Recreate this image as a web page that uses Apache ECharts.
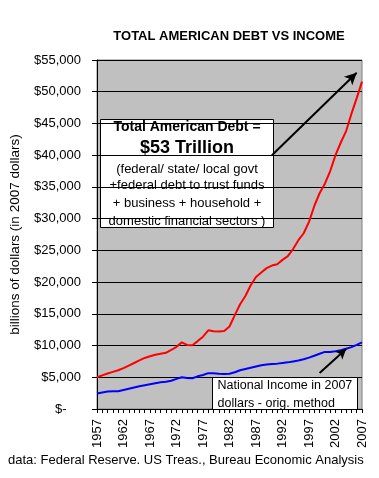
<!DOCTYPE html>
<html>
<head>
<meta charset="utf-8">
<script src="https://cdn.jsdelivr.net/npm/echarts@6/dist/echarts.min.js"></script>
<style>
html,body{margin:0;padding:0;background:#fff;}
#chart{width:379px;height:478px;}
</style>
</head>
<body>
<div id="chart"></div>
<script>
var years = [];
for (var y = 1957; y <= 2007; y++) years.push(String(y));

var totalDebt = [
  5000, 5300, 5600, 5850, 6100, 6450, 6850, 7250, 7650, 8050,
  8300, 8550, 8700, 8850, 9300, 9800, 10500, 10100, 10050, 10700,
  11400, 12400, 12250, 12200, 12300, 13000, 14800, 16500, 17800, 19500,
  20800, 21500, 22200, 22600, 22800, 23500, 24100, 25200, 26600, 27700,
  29500, 32000, 34000, 35500, 37500, 40000, 42000, 43800, 46500, 49000,
  51600
];
var nationalIncome = [
  2450, 2600, 2750, 2780, 2800, 3000, 3200, 3400, 3600, 3750,
  3900, 4050, 4200, 4300, 4450, 4750, 5000, 4900, 4850, 5150,
  5350, 5650, 5650, 5550, 5500, 5550, 5800, 6100, 6300, 6500,
  6700, 6900, 7000, 7100, 7150, 7250, 7350, 7500, 7650, 7850,
  8100, 8400, 8700, 9000, 9000, 9100, 9250, 9500, 9750, 10100,
  10500
];
var yTicks = [0, 5000, 10000, 15000, 20000, 25000, 30000, 35000, 40000, 45000, 50000, 55000];

var debtArrow = [[33, 40000], [49.3, 53000]];
var incomeArrow = [[42.4, 5680], [47.4, 9460]];

var FONT = '"Liberation Sans", Arial, sans-serif';

function line(text, y, font) {
  return {type: 'text', x: 86.5, y: y, style: {text: text, fill: '#000', font: font,
    textAlign: 'center', textVerticalAlign: 'middle'}};
}

var chart = echarts.init(document.getElementById('chart'), null, {renderer: 'canvas'});
chart.setOption({
  animation: false,
  backgroundColor: '#ffffff',
  textStyle: {fontFamily: FONT},
  title: {
    text: 'TOTAL AMERICAN DEBT VS INCOME',
    left: 224, top: 25, textAlign: 'center',
    textStyle: {fontFamily: FONT, fontSize: 13, fontWeight: 'bold', color: '#000'}
  },
  grid: {
    left: 96, right: 17, top: 60, bottom: 69,
    show: true, backgroundColor: '#C0C0C0', borderColor: '#808080', borderWidth: 1
  },
  xAxis: {
    type: 'category',
    data: years,
    boundaryGap: false,
    axisLine: {lineStyle: {color: '#000', width: 1}},
    axisTick: {interval: 0, length: 4, lineStyle: {color: '#000'}},
    axisLabel: {
      interval: 4, rotate: 90, fontSize: 13, color: '#000', margin: 10, fontFamily: FONT
    },
    splitLine: {show: false}
  },
  yAxis: {
    type: 'value',
    min: yTicks[0], max: yTicks[yTicks.length - 1], interval: 5000,
    name: 'billions of dollars (in 2007 dollars)',
    nameLocation: 'middle', nameGap: 75,
    nameTextStyle: {fontFamily: FONT, fontSize: 13.5, color: '#000'},
    axisLine: {show: true, lineStyle: {color: '#000', width: 1}},
    axisTick: {show: true, length: 5, lineStyle: {color: '#000'}},
    axisLabel: {
      fontSize: 13, color: '#000', margin: 16, fontFamily: FONT,
      formatter: function (v) {
        if (v === 0) return '$-    ';
        return '$' + v.toLocaleString('en-US');
      }
    },
    splitLine: {show: true, lineStyle: {color: '#000', width: 1}}
  },
  series: [
    {
      name: 'Total American Debt',
      type: 'line',
      data: totalDebt,
      showSymbol: false,
      lineStyle: {color: '#FF0000', width: 2},
      itemStyle: {color: '#FF0000'},
      z: 3,
      markLine: {
        silent: true,
        symbol: ['none', 'arrow'],
        symbolSize: [9, 12],
        label: {show: false},
        lineStyle: {color: '#000', width: 2, type: 'solid'},
        data: [[{coord: debtArrow[0]}, {coord: debtArrow[1]}]]
      }
    },
    {
      name: 'National Income',
      type: 'line',
      data: nationalIncome,
      showSymbol: false,
      lineStyle: {color: '#0000FF', width: 2},
      itemStyle: {color: '#0000FF'},
      z: 3,
      markLine: {
        silent: true,
        symbol: ['none', 'arrow'],
        symbolSize: [8, 10],
        label: {show: false},
        lineStyle: {color: '#000', width: 2, type: 'solid'},
        data: [[{coord: incomeArrow[0]}, {coord: incomeArrow[1]}]]
      }
    }
  ],
  graphic: [
    {
      type: 'group', left: 100, top: 119, z: 10,
      children: [
        {type: 'rect', shape: {x: 0, y: 0, width: 173, height: 108},
         style: {fill: '#fff', stroke: '#000', lineWidth: 1}},
        line('Total American Debt =', 8, 'bold 14px ' + FONT),
        line('$53 Trillion', 28.5, 'bold 18px ' + FONT),
        line('(federal/ state/ local govt', 49.5, '13px ' + FONT),
        line('+federal debt to trust funds', 65.5, '13px ' + FONT),
        line('+ business + household +', 84.3, '13px ' + FONT),
        line('domestic financial sectors )', 101.5, '13px ' + FONT)
      ]
    },
    {
      type: 'group', left: 212, top: 377, z: 10,
      children: [
        {type: 'rect', shape: {x: 0, y: 0, width: 145, height: 32},
         style: {fill: '#fff', stroke: '#000', lineWidth: 1}},
        {type: 'text', x: 5, y: 8, style: {text: 'National Income in 2007', fill: '#000',
          font: '12.5px ' + FONT, textVerticalAlign: 'middle'}},
        {type: 'text', x: 5, y: 26, style: {text: 'dollars - orig. method', fill: '#000',
          font: '12.5px ' + FONT, textVerticalAlign: 'middle'}}
      ]
    },
    {
      type: 'text', left: 8, top: 454, z: 10,
      style: {text: 'data: Federal Reserve. US Treas., Bureau Economic Analysis', fill: '#000',
        font: '13px ' + FONT}
    }
  ]
});
</script>
</body>
</html>
